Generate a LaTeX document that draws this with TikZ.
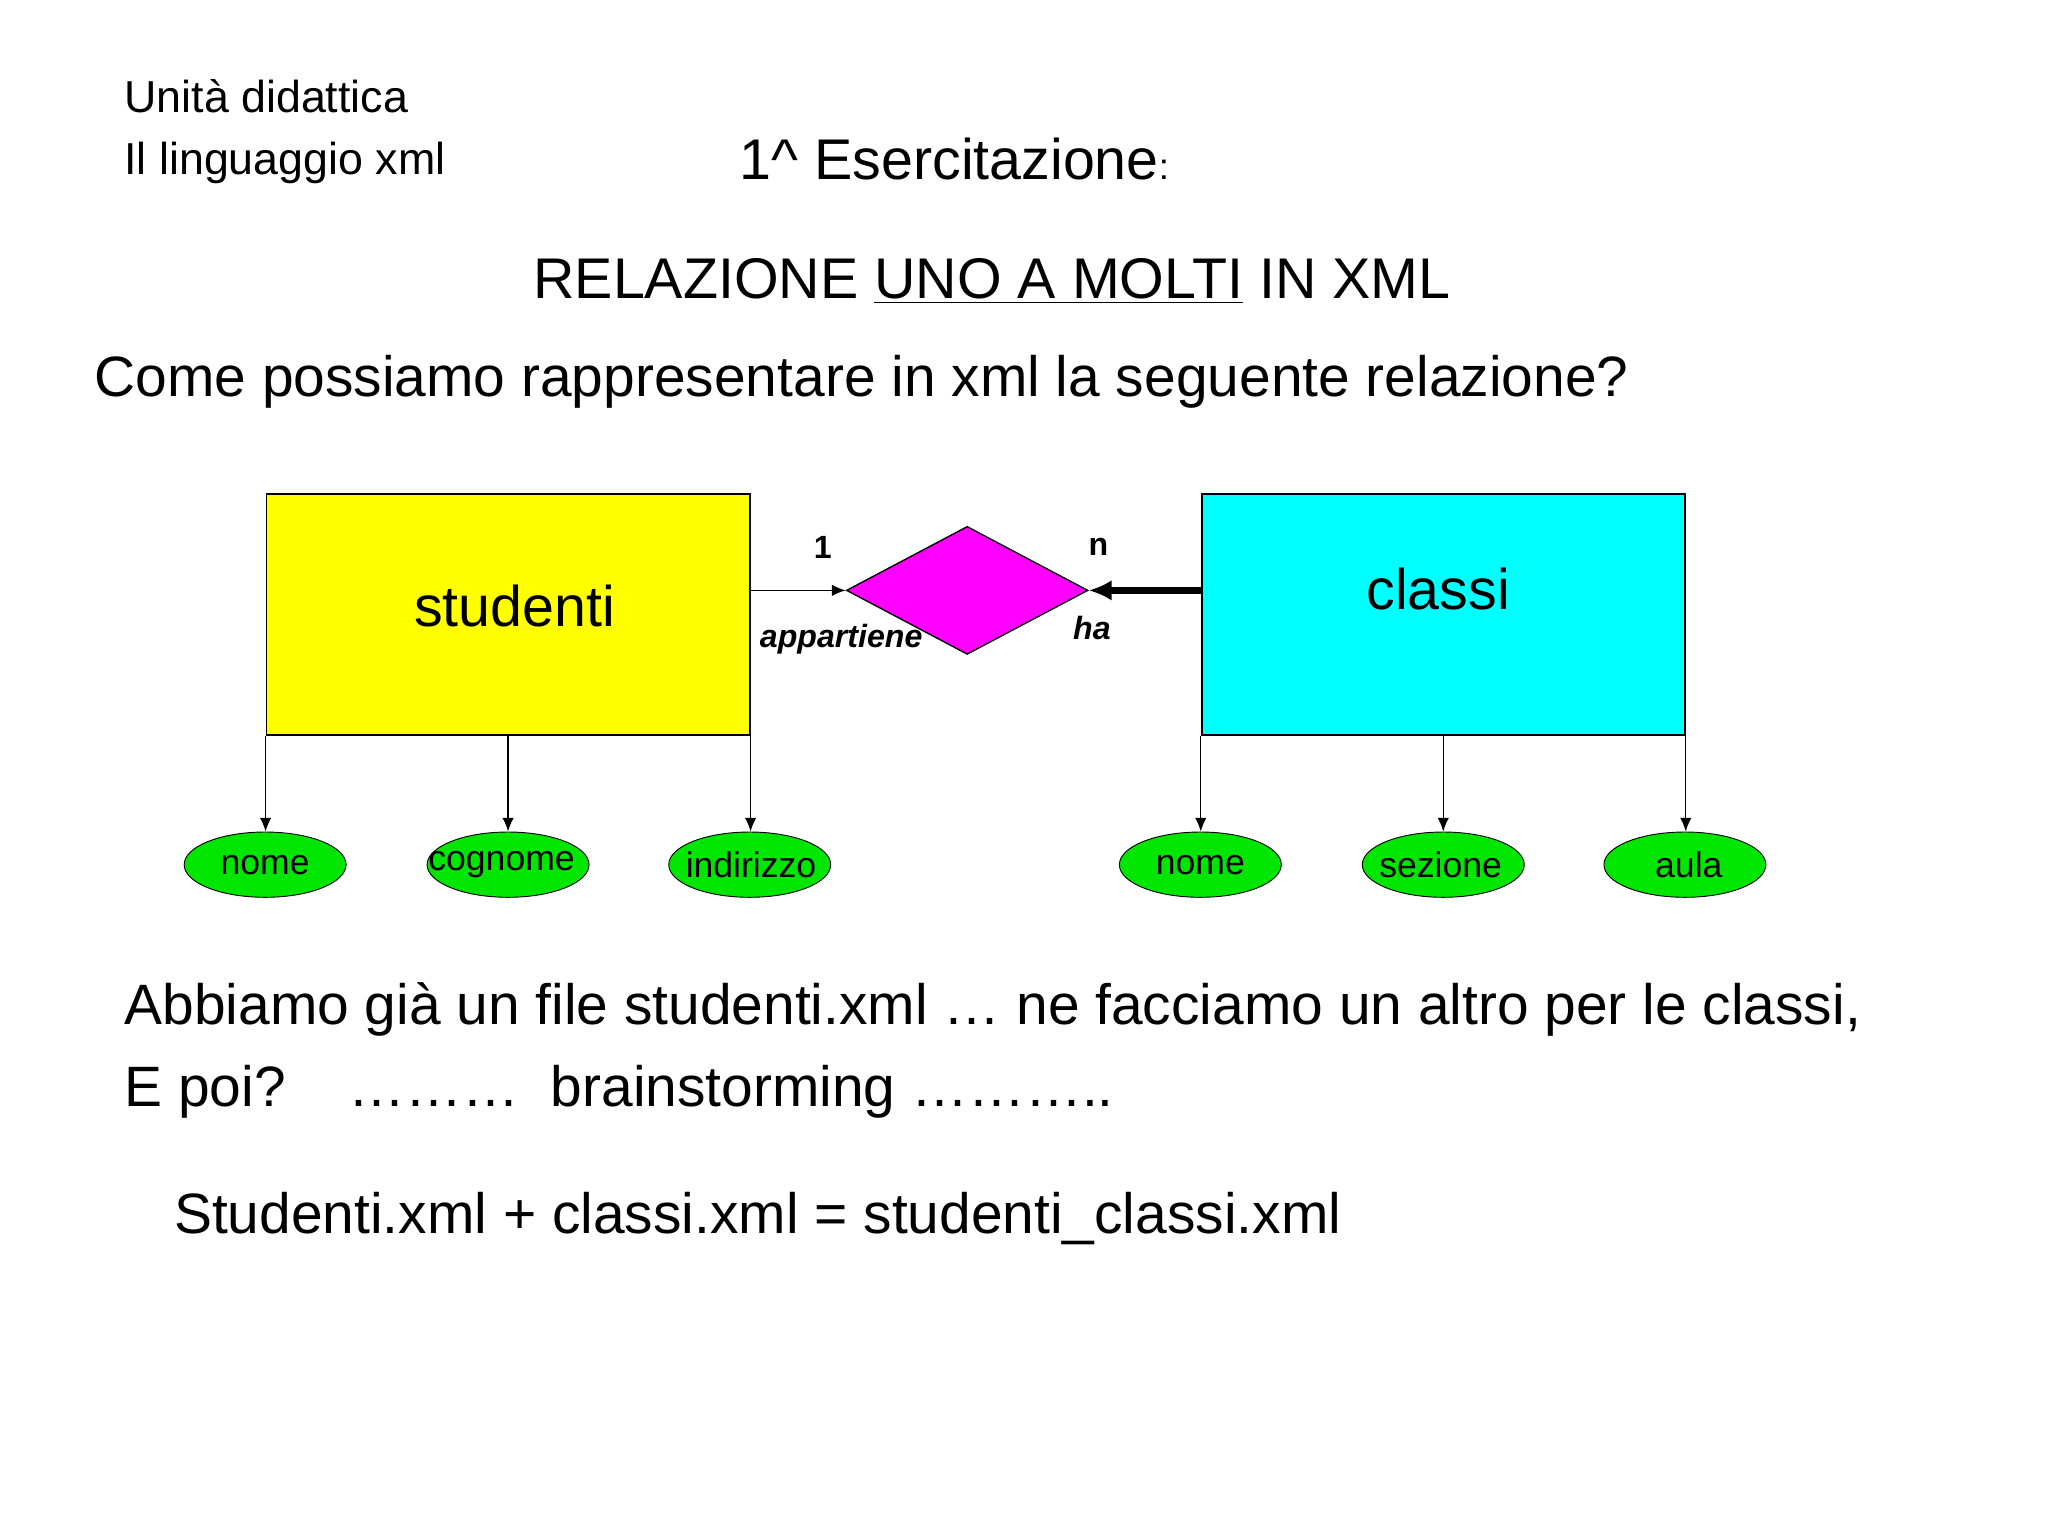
\documentclass[tikz,border=0pt]{standalone}
\usepackage{fontspec}
\setmainfont{Liberation Sans}
\usetikzlibrary{shapes.geometric,arrows.meta}
\definecolor{ey}{RGB}{255,255,0}
\definecolor{ec}{RGB}{0,255,255}
\definecolor{em}{RGB}{255,0,255}
\definecolor{eg}{RGB}{0,230,0}
\begin{document}
\begin{tikzpicture}[x=0.02cm,y=-0.02cm,
  txt/.style={anchor=west,inner sep=0pt},
  ent/.style={draw=black,line width=0.8pt,minimum width=7.4cm,minimum height=3.7cm,inner sep=0pt},
  attr/.style={ellipse,draw=black,fill=eg,minimum width=2.48cm,minimum height=1cm,inner sep=0pt},
  atxt/.style={inner sep=0pt,font=\fontsize{15.5}{17}\selectfont},
  conn/.style={line width=0.6pt,-{Latex[length=6pt,width=5pt]}},
  lbl/.style={inner sep=0pt,font=\fontsize{14}{16}\selectfont\bfseries}]
\useasboundingbox (0,0) rectangle (1568,1176);
\fill[white] (0,0) rectangle (1568,1176);
\node[txt,font=\fontsize{19.5}{22}\selectfont] (ud) at (95,74) {Unità didattica};
\node[txt,font=\fontsize{19.5}{22}\selectfont] (il) at (95,125) {Il linguaggio xml};
\node[txt,font=\fontsize{25}{28}\selectfont] (es) at (566,122) {1\^{} Esercitazione{\fontsize{16}{18}\selectfont:}};
\node[txt,font=\fontsize{25}{28}\selectfont] (rel) at (408,215) {RELAZIONE \underline{UNO A MOLTI} IN XML};
\node[txt,font=\fontsize{24.8}{28}\selectfont] (come) at (72,292) {Come possiamo rappresentare in xml la seguente relazione?};

\node[ent,fill=ey] (stu) at (389,470.5) {};
\node[font=\fontsize{25}{28}\selectfont] (stut) at (394,464) {studenti};
\node[ent,fill=ec] (cla) at (1105,470.5) {};
\node[font=\fontsize{25}{28}\selectfont] (clat) at (1101,451) {classi};
\node[diamond,draw=black,fill=em,line width=0.6pt,minimum width=3.7cm,minimum height=1.96cm,inner sep=0pt,aspect=1.9] (dia) at (740.5,452) {};
\draw[conn] (stu.east |- dia) -- (dia.west);
\draw[line width=3pt,-{Latex[length=10pt,width=9pt]}] (cla.west |- dia) -- (dia.east);
\node[lbl] (one) at (630,419) {1};
\node[lbl] (nn) at (841,419) {n};
\node[lbl,font=\fontsize{14}{16}\selectfont\bfseries\itshape] (app) at (644,489) {appartiene};
\node[lbl,font=\fontsize{14}{16}\selectfont\bfseries\itshape] (ha) at (836,481) {ha};

\node[attr] (a1) at (203,662) {};
\node[attr] (a2) at (389,662) {};
\node[attr] (a3) at (574,662) {};
\node[attr] (b1) at (919,662) {};
\node[attr] (b2) at (1105,662) {};
\node[attr] (b3) at (1290,662) {};
\node[atxt] (t1) at (a1) {nome};
\node[atxt] (t2) at (384,662) {cognome};
\node[atxt] (t3) at (575,662) {indirizzo};
\node[atxt] (t4) at (b1) {nome};
\node[atxt] (t5) at (1103,662) {sezione};
\node[atxt] (t6) at (1293,662) {aula};
\draw[conn] (stu.south west) -- (a1.north -| stu.south west);
\draw[conn] (stu.south) -- (a2.north);
\draw[conn] (stu.south east) -- (a3.north -| stu.south east);
\draw[conn] (cla.south west) -- (b1.north -| cla.south west);
\draw[conn] (cla.south) -- (b2.north);
\draw[conn] (cla.south east) -- (b3.north -| cla.south east);

\node[txt,font=\fontsize{24.8}{28}\selectfont] (ab) at (95,773) {Abbiamo già un file studenti.xml … ne facciamo un altro per le classi,};
\node[txt,font=\fontsize{24.8}{28}\selectfont] (ep) at (95,836) {E poi?\hspace{1.1em}……… \ brainstorming ………..};
\node[txt,font=\fontsize{24.8}{28}\selectfont] (sx) at (133,933) {Studenti.xml + classi.xml = studenti\_classi.xml};
\end{tikzpicture}
\end{document}
